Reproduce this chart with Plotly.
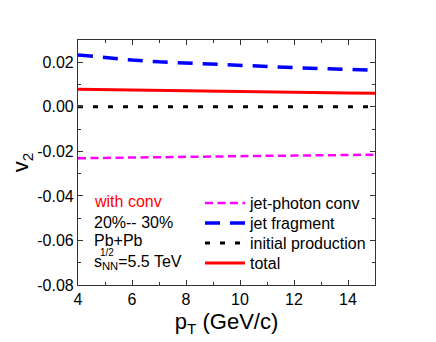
import plotly.graph_objects as go

pt = [4, 5, 6, 7, 8, 9, 10, 11, 12, 13, 14, 15]
jet_photon_conv = [-0.0231, -0.0229, -0.0228, -0.0226, -0.0225, -0.0223, -0.0222, -0.0220, -0.0219, -0.0218, -0.0216, -0.0215]
jet_fragment = [0.0233, 0.0220, 0.0210, 0.0202, 0.0196, 0.0190, 0.0185, 0.0180, 0.0176, 0.0172, 0.0168, 0.0164]
initial_production = [0.0] * 12
total = [0.0079, 0.0077, 0.0075, 0.0073, 0.0071, 0.0069, 0.0068, 0.0066, 0.0065, 0.0063, 0.0062, 0.0061]

y_tickvals = [-0.08, -0.06, -0.04, -0.02, 0.0, 0.02]
y_ticktext = ["-0.08", "-0.06", "-0.04", "-0.02", "0.00", "0.02"]
x_tickvals = [4, 6, 8, 10, 12, 14]

font = "Liberation Sans, Arial, sans-serif"

# page body has an 8px margin; plot area targeted at x 78..375, y 40..285 on screen
OFF = 8
PX0, PX1, PY0, PY1 = 78, 375, 40, 285
W, H = 436, 342

fig = go.Figure()
fig.add_trace(go.Scatter(x=pt, y=jet_photon_conv, mode="lines", name="jet-photon conv", legend="legend",
                         line=dict(color="#ff00ff", width=2.5, dash="8px,4.5px")))
fig.add_trace(go.Scatter(x=pt, y=jet_fragment, mode="lines", name="jet fragment", legend="legend2",
                         line=dict(color="#0000ff", width=3.5, dash="15px,10px")))
fig.add_trace(go.Scatter(x=pt, y=initial_production, mode="lines", name="initial production", legend="legend3",
                         line=dict(color="#000000", width=3, dash="5px,10px")))
fig.add_trace(go.Scatter(x=pt, y=total, mode="lines", name="total", legend="legend4",
                         line=dict(color="#ff0000", width=3)))
for t in fig.data:
    t.showlegend = True

axis_common = dict(showline=True, linecolor="#333", linewidth=1.2, mirror="allticks",
                   ticks="inside", ticklen=5, tickcolor="#333", showgrid=False, zeroline=False,
                   automargin=False,
                   tickfont=dict(family=font, size=16, color="#000"))

fig.update_xaxes(range=[4, 15], tickvals=x_tickvals,
                 minor=dict(ticks="inside", dtick=1, tick0=4, ticklen=3, tickcolor="#333"),
                 title=dict(text="p<sub>T</sub> (GeV/c)", font=dict(family=font, size=22, color="#000"), standoff=6),
                 **axis_common)
fig.update_yaxes(range=[-0.08, 0.03], tickvals=y_tickvals, ticktext=y_ticktext,
                 minor=dict(ticks="inside", dtick=0.01, tick0=0, ticklen=3, tickcolor="#333"),
                 title=dict(text="v<sub>2</sub>", font=dict(family=font, size=22, color="#000"), standoff=8),
                 **axis_common)


def px(x):
    return (x - PX0) / (PX1 - PX0)


def py(y):
    return (PY1 - y) / (PY1 - PY0)


ann_font = dict(family=font, size=16, color="#000")
anns = [
    dict(text="with conv", x=92, y=202, font=dict(family=font, size=16, color="#ff0000")),
    dict(text="20%-- 30%", x=92, y=222, font=ann_font),
    dict(text="Pb+Pb", x=92, y=240, font=ann_font),
    dict(text="s<sub>NN</sub>=5.5 TeV", x=92, y=262, font=ann_font),
    dict(text="1/2", x=98, y=252.5, font=dict(family=font, size=10, color="#000")),
]
for a in anns:
    fig.add_annotation(text=a["text"], xref="paper", yref="paper",
                       x=px(a["x"]), y=py(a["y"]),
                       xanchor="left", yanchor="middle", showarrow=False, font=a["font"])

leg_rows = [203, 223, 243, 263]
legs = {}
for i, yy in enumerate(leg_rows):
    key = "legend" if i == 0 else f"legend{i + 1}"
    legs[key] = dict(x=px(200), y=py(yy), xanchor="left", yanchor="middle", visible=True,
                     bgcolor="rgba(0,0,0,0)", font=dict(family=font, size=16, color="#000"),
                     itemwidth=40, tracegroupgap=0)

fig.update_layout(
    width=W, height=H, showlegend=True,
    margin=dict(l=PX0 - OFF, r=W - (PX1 - OFF), t=PY0 - OFF, b=H - (PY1 - OFF)),
    plot_bgcolor="white", paper_bgcolor="white",
    **legs,
)

fig.write_html("out.html")
